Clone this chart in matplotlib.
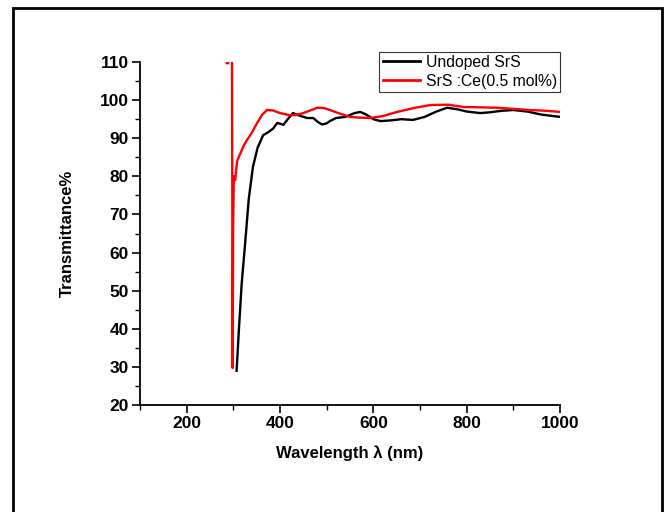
import numpy as np
import matplotlib
matplotlib.use("Agg")
import matplotlib.pyplot as plt
from matplotlib.patches import Rectangle
from matplotlib.ticker import MultipleLocator

plt.rcParams['font.family'] = ['Liberation Sans', 'DejaVu Sans']

undoped_x = [307, 312, 318, 325, 333, 342, 352, 364, 375, 385, 394, 401, 407, 418, 428, 440, 458, 471, 482, 490, 500, 507,
             520, 540, 560, 572, 585, 600, 615, 640, 660, 685, 710, 735, 758, 780, 800, 829, 850, 875, 900, 930, 960, 1000]
undoped_y = [29, 40, 52, 62, 74, 82.5, 87.5, 90.8, 91.6, 92.5, 94, 93.8, 93.5, 95.2, 96.6, 96.0, 95.3, 95.3, 94.2, 93.6, 93.9, 94.5,
             95.3, 95.6, 96.6, 96.9, 96.2, 95.0, 94.5, 94.7, 95.0, 94.8, 95.6, 97.0, 98.0, 97.6, 97.0, 96.6, 96.8, 97.2, 97.4, 97.0, 96.2, 95.6]

ce_x = [286, 289, np.nan, 297, 298.5, 299.5, 301, 304, 308, 315, 322, 329, 340, 351, 362, 372, 385, 400, 422, 435, 450, 465, 480,
        495, 507, 525, 550, 570, 593, 620, 651, 690, 722, 760, 793, 830, 866, 900, 936, 970, 1000]
ce_y = [109.7, 109.7, np.nan, 125, 29.7, 65, 80, 79, 84, 86, 88, 89.5, 91.5, 94, 96.2, 97.4, 97.3, 96.6, 96.0, 96.1, 96.6, 97.3, 98,
        97.9, 97.4, 96.6, 95.6, 95.4, 95.3, 95.8, 96.9, 98.0, 98.7, 98.8, 98.2, 98.1, 98.0, 97.7, 97.4, 97.2, 96.9]

fig = plt.figure(figsize=(6.64, 5.12), dpi=100)
fig.patches.append(Rectangle((13/664, -0.1), (662-13)/664, (512-8)/512 + 0.1,
                             transform=fig.transFigure, fill=False, lw=2, ec='black'))
ax = fig.add_axes([140/664, 1-405/512, 420/664, 343/512])

ax.plot(undoped_x, undoped_y, color='black', lw=1.7, label='Undoped SrS')
ax.plot(ce_x, ce_y, color='#ff0000', lw=1.7, label='SrS :Ce(0.5 mol%)')

ax.set_xlim(100, 1000)
ax.set_ylim(20, 110)
ax.xaxis.set_major_locator(MultipleLocator(200))
ax.xaxis.set_minor_locator(MultipleLocator(100))
ax.yaxis.set_major_locator(MultipleLocator(10))
ax.yaxis.set_minor_locator(MultipleLocator(5))
ax.spines['top'].set_visible(False)
ax.spines['right'].set_visible(False)
for s in ('left', 'bottom'):
    ax.spines[s].set_linewidth(1.3)
ax.tick_params(which='major', direction='out', length=6, width=1.2, labelsize=12.5, pad=2)
ax.tick_params(which='minor', direction='out', length=3.5, width=1.0)
for lab in ax.get_xticklabels() + ax.get_yticklabels():
    lab.set_fontweight('bold')

ax.set_xlabel('Wavelength λ (nm)', fontsize=12, fontweight='bold', labelpad=10)
ax.set_ylabel('Transmittance%', fontsize=12, fontweight='bold', labelpad=18)

leg = ax.legend(loc='upper right', bbox_to_anchor=(1.0, 1.03), fontsize=11.3, frameon=True, fancybox=False,
                edgecolor='black', borderpad=0.2, handlelength=2.4, handletextpad=0.35, labelspacing=0.25,
                borderaxespad=0)
leg.get_frame().set_linewidth(0.8)
for h in leg.get_lines():
    h.set_linewidth(2.0)

fig.savefig('out.png', dpi=100, facecolor='white')
